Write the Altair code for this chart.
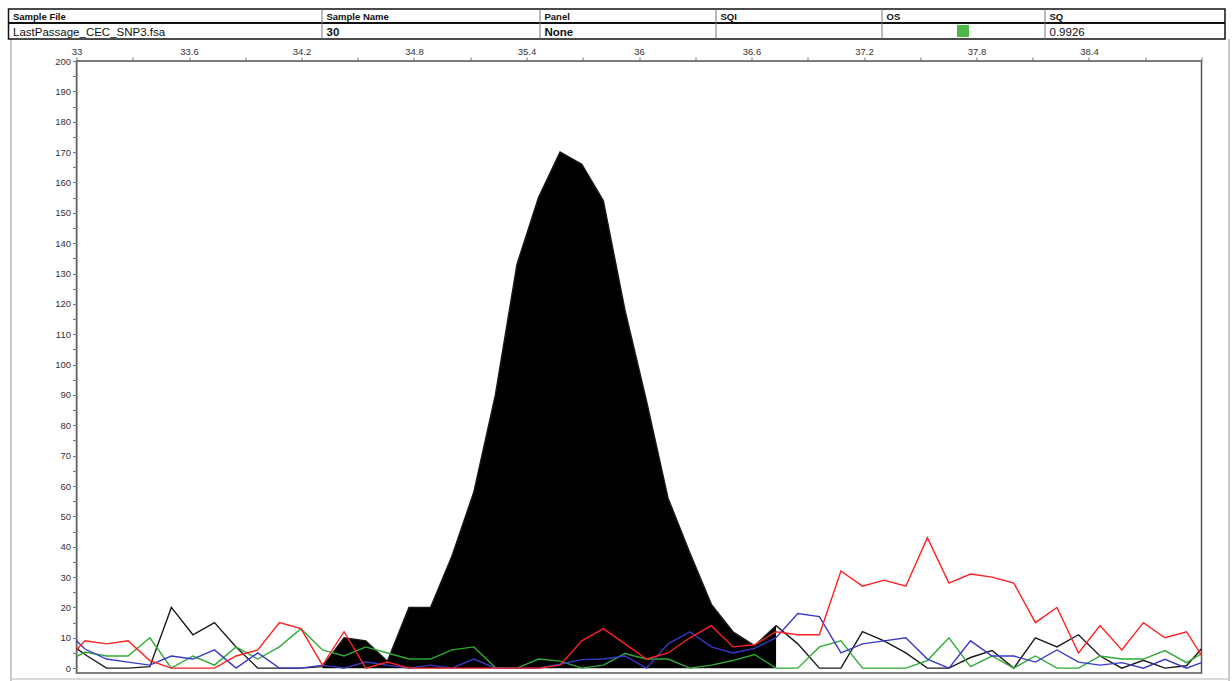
import altair as alt
import pandas as pd

# ---------------- data ----------------
# sample positions (size axis); first/last are the plot edges
x_pos = [33.0,
         33.045, 33.160, 33.275, 33.391, 33.506, 33.621, 33.736, 33.851, 33.967, 34.082,
         34.197, 34.312, 34.427, 34.543, 34.658, 34.773, 34.888, 35.003, 35.119, 35.234,
         35.349, 35.464, 35.579, 35.695, 35.810, 35.925, 36.040, 36.155, 36.271, 36.386,
         36.501, 36.616, 36.731, 36.847, 36.962, 37.077, 37.192, 37.307, 37.423, 37.538,
         37.653, 37.768, 37.883, 37.999, 38.114, 38.229, 38.344, 38.459, 38.575, 38.690,
         38.805, 38.920,
         39.0]

black = [6.5,
         4.5, 0, 0, 0.5, 20, 11, 15, 7, 0, 0,
         0, 0.5, 10, 9, 2.3, 20, 20, 37, 58, 90,
         133, 155, 170, 166, 154, 118, 88, 56, 38, 21,
         12, 7.4, 14, 8, 0, 0, 12, 9, 5, 0,
         0, 3.5, 5.8, 0, 10, 7, 11, 4, 0, 2.6,
         0, 0.8,
         6.4]

blue = [9,
        6.3, 3, 2, 1, 4, 3, 6, 0, 5, 0,
        0, 1, 0, 2, 1, 0, 1, 0, 3, 0,
        0, 0, 1.3, 2.8, 3, 4, 0, 8, 12, 7,
        5, 6.5, 10, 18, 17, 5, 8, 9, 10, 3,
        0, 9, 4, 4, 2, 6, 2, 1, 1.8, 0,
        2.9, 0,
        1.8]

red = [6,
       9, 8, 9, 2.5, 0, 0, 0, 4, 6, 15,
       13, 1, 12, 0, 2, 0, 0, 0, 0, 0,
       0, 0, 1, 9, 13, 8, 3, 5, 10, 14,
       7, 7.7, 12, 11, 11, 32, 27, 29, 27, 43,
       28, 31, 30, 28, 15, 20, 5, 14, 6, 15,
       10, 12,
       4.2]

green = [3.8,
         5.3, 4, 4, 10, 0, 4, 1, 7, 3, 7,
         13, 6, 4, 7, 5, 3, 3, 6, 7, 0.2,
         0, 3, 2.3, 0, 1, 4.8, 3, 3, 0, 1,
         2.5, 4.5, 0, 0, 7, 9, 0, 0, 0, 2.5,
         10, 0.5, 4, 0, 4, 0, 0, 4, 3, 3,
         5.8, 1.8,
         4.8]

# filled peak region: indices of x_pos covered by the black fill
peak_first, peak_last = 12, 33

x_ticks = [33, 33.3, 33.6, 33.9, 34.2, 34.5, 34.8, 35.1, 35.4, 35.7, 36, 36.3,
           36.6, 36.9, 37.2, 37.5, 37.8, 38.1, 38.4, 38.7, 39]
y_ticks = [0, 5, 10, 15, 20, 25, 30, 35, 40, 45, 50, 55, 60, 65, 70, 75, 80, 85, 90, 95,
           100, 105, 110, 115, 120, 125, 130, 135, 140, 145, 150, 155, 160, 165, 170,
           175, 180, 185, 190, 195, 200]

header_titles = ["Sample File", "Sample Name", "Panel", "SQI", "OS", "SQ"]
header_values = ["LastPassage_CEC_SNP3.fsa", "30", "None", "", "", "0.9926"]
header_value_bold = [False, True, True, False, False, False]

# ---------------- layout ----------------
W, H = 1125, 612
OX, OY = 76.5, 61
FONT = "Liberation Sans"

table_left, table_right = 8.5, 1225
table_top, row_div, table_bottom = 9, 23, 39
col_edges = [8.5, 322, 540, 716, 882, 1045]

df = pd.DataFrame({"x": x_pos, "black": black, "blue": blue, "red": red, "green": green})
df_peak = df.iloc[peak_first:peak_last + 1]

x_enc = alt.X("x:Q", scale=alt.Scale(domain=[33, 39], nice=False, zero=False),
              axis=alt.Axis(orient="top", values=x_ticks, title=None,
                            labelExpr="(round(datum.value*10) - 330) % 6 == 0 && datum.value < 38.9 ? format(datum.value, '~g') : ''",
                            labelFont=FONT, labelFontSize=9.5, labelColor="#333",
                            labelPadding=1, tickSize=4, tickColor="#777",
                            domainColor="#777", grid=False, labelFlush=False))


def y_enc(field):
    return alt.Y(f"{field}:Q", scale=alt.Scale(domain=[-1.6, 200], nice=False),
                 axis=alt.Axis(orient="left", values=y_ticks, title=None,
                               labelExpr="datum.value % 10 == 0 ? datum.label : ''",
                               labelFont=FONT, labelFontSize=9.5, labelColor="#333",
                               labelPadding=2, tickSize=4, tickColor="#777",
                               domainColor="#777", grid=False))


area = alt.Chart(df_peak).mark_area(color="#000", interpolate="linear").encode(
    x=x_enc, y=y_enc("black"), y2=alt.datum(0))


def line(field, color, width=1.4):
    return alt.Chart(df).mark_line(color=color, strokeWidth=width, interpolate="linear").encode(
        x=x_enc, y=y_enc(field))


layers = [area,
          line("black", "#1a1a1a"),
          line("green", "#2faa35"),
          line("blue", "#3a3ac8"),
          line("red", "#ff2020")]

one = alt.Data(values=[{"a": 1}])


def rule(x1, y1, x2, y2, color, w):
    return alt.Chart(one).mark_rule(color=color, strokeWidth=w).encode(
        x=alt.value(x1 - OX), x2=alt.value(x2 - OX), y=alt.value(y1 - OY), y2=alt.value(y2 - OY))


def text(s, x, y, size, bold):
    return alt.Chart(one).mark_text(align="left", baseline="alphabetic", font=FONT,
                                    fontSize=size, fontWeight="bold" if bold else "normal",
                                    color="#111").encode(
        x=alt.value(x - OX), y=alt.value(y - OY), text=alt.value(s))


# outer panel frame
layers.append(rule(11, table_bottom, 11, 681, "#bbbbbb", 1.5))
layers.append(rule(1229, table_bottom, 1229, 681, "#bbbbbb", 1.5))
layers.append(rule(11, 679, 1229, 679, "#cccccc", 1.5))

# header table
layers.append(alt.Chart(one).mark_rect(fill="white", stroke="#111", strokeWidth=1.5).encode(
    x=alt.value(table_left - OX), x2=alt.value(table_right - OX),
    y=alt.value(table_top - OY), y2=alt.value(table_bottom - OY)))
layers.append(rule(table_left, row_div, table_right, row_div, "#111", 2))
for ce in col_edges[1:]:
    layers.append(rule(ce, table_top, ce, table_bottom, "#777", 1))
for i, (t, v) in enumerate(zip(header_titles, header_values)):
    layers.append(text(t, col_edges[i] + 4.5, 19.5, 9.5, True))
    if v:
        layers.append(text(v, col_edges[i] + 4.5, 35.5, 11.5, header_value_bold[i]))
layers.append(alt.Chart(one).mark_rect(fill="#4cb848").encode(
    x=alt.value(957 - OX), x2=alt.value(969 - OX), y=alt.value(25 - OY), y2=alt.value(37 - OY)))

chart = alt.layer(*layers).properties(
    width=W, height=H,
    padding={"left": OX, "top": OY, "right": 1232 - OX - W, "bottom": 681 - OY - H},
    autosize=alt.AutoSizeParams(type="none"),
    background="white",
).configure_view(stroke="#555", strokeWidth=1.5)

chart.save("out.html", embed_options={"renderer": "svg", "actions": False})
